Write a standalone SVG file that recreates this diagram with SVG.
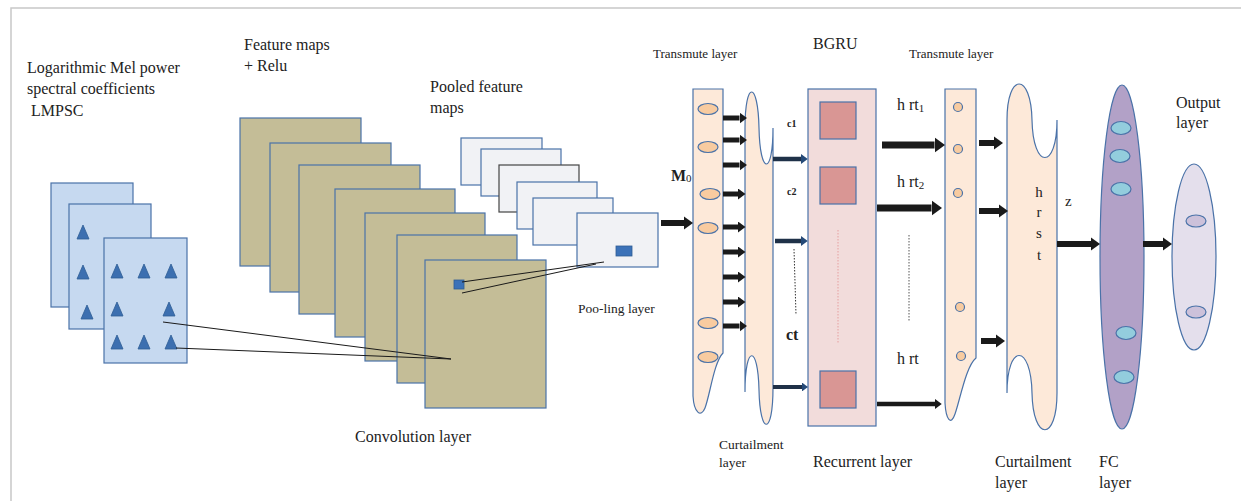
<svg xmlns="http://www.w3.org/2000/svg" xmlns:xlink="http://www.w3.org/1999/xlink" width="1241" height="501" viewBox="0 0 1241 501" font-family="'Liberation Serif', 'DejaVu Serif', serif">
<style>
  text { font-family: 'Liberation Serif', 'DejaVu Serif', serif; fill: #222; }
  .t16 { font-size: 16px; }
  .t15 { font-size: 15px; }
  .t13 { font-size: 13.5px; }
  .sheet { fill: #c6d9f0; stroke: #4a72a8; stroke-width: 1.2; }
  .fm { fill: #c4bd97; stroke: #4a72a8; stroke-width: 1.2; }
  .pool { fill: #f1f2f5; stroke: #4a72a8; stroke-width: 1.2; }
  .peach { fill: #fde9d9; stroke: #4a72a8; stroke-width: 1.2; }
  .node { fill: #f8cba0; stroke: #4a72a8; stroke-width: 1.2; }
  .tri { fill: #3c6fb0; stroke: #2f5d94; stroke-width: 0.8; }
  .thin { stroke: #1a1a1a; stroke-width: 1; fill: none; }
  .arr { stroke: #1a1a1a; fill: none; marker-end: url(#ah); }
  .arrn { stroke: #1f3148; fill: none; marker-end: url(#ahn); }
</style>
<defs>
  <marker id="ah" viewBox="0 0 10 10" refX="0" refY="5" markerWidth="1.5" markerHeight="2.2" markerUnits="strokeWidth" preserveAspectRatio="none" orient="auto">
    <path d="M0,0 L10,5 L0,10 Z" fill="#1a1a1a"/>
  </marker>
  <marker id="ahn" viewBox="0 0 10 10" refX="0" refY="5" markerWidth="1.5" markerHeight="2.2" markerUnits="strokeWidth" preserveAspectRatio="none" orient="auto">
    <path d="M0,0 L10,5 L0,10 Z" fill="#254a78"/>
  </marker>
  <path id="tri" class="tri" d="M0,-14 L6,0 L-6,0 Z"/>
</defs>

<!-- frame -->
<path d="M11,501 V8 H1241" fill="none" stroke="#c8c8c8" stroke-width="1.5"/>

<!-- input sheets -->
<g id="input-lmpsc">
  <rect class="sheet" x="51" y="183" width="82" height="124"/>
  <rect class="sheet" x="69" y="204" width="82" height="125"/>
  <use xlink:href="#tri" x="83" y="239"/>
  <use xlink:href="#tri" x="83" y="279"/>
  <use xlink:href="#tri" x="87" y="319"/>
  <rect class="sheet" x="104" y="238" width="83" height="125"/>
  <use xlink:href="#tri" x="117" y="278"/>
  <use xlink:href="#tri" x="144" y="278"/>
  <use xlink:href="#tri" x="171" y="278"/>
  <use xlink:href="#tri" x="117" y="316"/>
  <use xlink:href="#tri" x="169" y="316"/>
  <use xlink:href="#tri" x="117" y="349"/>
  <use xlink:href="#tri" x="144" y="349"/>
  <use xlink:href="#tri" x="171" y="349"/>
  <text class="t16" x="27" y="73">Logarithmic Mel power</text>
  <text class="t16" x="27" y="94">spectral coefficients</text>
  <text class="t16" x="27" y="116" xml:space="preserve"> LMPSC</text>
</g>

<!-- feature maps -->
<g id="feature-maps">
  <rect class="fm" x="240" y="118" width="121" height="148"/>
  <rect class="fm" x="270" y="143" width="121" height="149"/>
  <rect class="fm" x="299" y="165" width="121" height="149"/>
  <rect class="fm" x="335" y="189" width="120" height="148"/>
  <rect class="fm" x="365" y="213" width="120" height="148"/>
  <rect class="fm" x="397" y="235" width="120" height="148"/>
  <rect class="fm" x="425" y="260" width="121" height="148"/>
  <rect x="454" y="280" width="10" height="9" fill="#3c72b8" stroke="#2f5d94" stroke-width="0.8"/>
  <text class="t16" x="244" y="50">Feature maps</text>
  <text class="t16" x="244" y="71">+ Relu</text>
  <text class="t16" x="355" y="442">Convolution layer</text>
</g>

<!-- pooled feature maps -->
<g id="pooled-maps">
  <rect class="pool" x="461" y="138" width="81" height="47"/>
  <rect class="pool" x="481" y="149" width="80" height="47"/>
  <rect class="pool" x="499" y="165" width="80" height="47" style="stroke:#444"/>
  <rect class="pool" x="517" y="182" width="80" height="47"/>
  <rect class="pool" x="533" y="198" width="80" height="47"/>
  <rect class="pool" x="577" y="213" width="81" height="54"/>
  <rect x="616" y="246" width="16" height="10" fill="#3c72b8" stroke="#2f5d94" stroke-width="0.8"/>
  <text class="t16" x="430" y="92">Pooled feature</text>
  <text class="t16" x="430" y="113">maps</text>
  <text class="t13" x="578" y="313">Poo-ling layer</text>
</g>

<!-- transmute layer 1 -->
<g id="transmute-layer-1">
  <path class="peach" d="M693,89 H723 V353 C714,362 710,395 705,408 C701,418 694,413 693,396 Z"/>
  <ellipse class="node" cx="708" cy="109" rx="10" ry="5.5"/>
  <ellipse class="node" cx="708" cy="147" rx="10" ry="5.5"/>
  <ellipse class="node" cx="710" cy="194" rx="10" ry="5.5"/>
  <ellipse class="node" cx="708" cy="228" rx="10" ry="5.5"/>
  <ellipse class="node" cx="708" cy="323" rx="10" ry="5.5"/>
  <ellipse class="node" cx="708" cy="357" rx="10" ry="5.5"/>
  <text x="653" y="58" style="font-size:13px">Transmute layer</text>
  <text x="671" y="181" style="font-size:16px;font-weight:bold">M<tspan style="font-size:11px;font-weight:normal" dy="1">0</tspan></text>
</g>

<!-- curtailment layer 1 -->
<g id="curtailment-layer-1">
  <path class="peach" d="M745,128 C745,80 758,80 759,128 C760,176 773,176 773,128 V388 C773,436 760,436 759,390 C758,344 745,344 745,392 Z"/>
  <text class="t13" x="719" y="449">Curtailment</text>
  <text class="t13" x="719" y="467">layer</text>
</g>

<!-- BGRU -->
<g id="bgru">
  <rect x="808" y="89" width="68" height="337" fill="#f2dcdb" stroke="#4a72a8" stroke-width="1.2"/>
  <rect x="820" y="102" width="36" height="37" fill="#d99694" stroke="#4a72a8" stroke-width="1.2"/>
  <rect x="820" y="167" width="36" height="37" fill="#d99694" stroke="#4a72a8" stroke-width="1.2"/>
  <rect x="820" y="371" width="36" height="37" fill="#d99694" stroke="#4a72a8" stroke-width="1.2"/>
  <line x1="838" y1="230" x2="838" y2="343" stroke="#e6a0a0" stroke-width="1" stroke-dasharray="1.5,1.5"/>
  <text class="t16" x="813" y="49">BGRU</text>
  <text class="t16" x="813" y="467">Recurrent layer</text>
</g>

<!-- transmute layer 2 -->
<g id="transmute-layer-2">
  <path class="peach" d="M945,89 H976 V358 C966,366 960,400 955,414 C951,426 946,420 945,403 Z"/>
  <circle class="node" cx="958" cy="107" r="4.5"/>
  <circle class="node" cx="958" cy="149" r="4.5"/>
  <circle class="node" cx="958" cy="193" r="4.5"/>
  <circle class="node" cx="960" cy="307" r="4.5"/>
  <circle class="node" cx="961" cy="356" r="4.5"/>
  <text x="909" y="58" style="font-size:13px">Transmute layer</text>
</g>

<!-- curtailment layer 2 -->
<g id="curtailment-layer-2">
  <path class="peach" d="M1007,120 C1007,72 1031,72 1032,120 C1033,170 1057,170 1057,120 V393 C1057,442 1033,442 1032,393 C1031,343 1007,343 1007,393 Z"/>
  <text class="t15" x="1039" y="197" text-anchor="middle">h</text>
  <text class="t15" x="1039" y="217" text-anchor="middle">r</text>
  <text class="t15" x="1039" y="238" text-anchor="middle">s</text>
  <text class="t15" x="1039" y="260" text-anchor="middle">t</text>
  <text class="t16" x="995" y="467">Curtailment</text>
  <text class="t16" x="995" y="488">layer</text>
</g>

<!-- FC layer -->
<g id="fc-layer">
  <ellipse cx="1122" cy="257" rx="22" ry="172" fill="#b2a1c7" stroke="#4a72a8" stroke-width="1.2"/>
  <ellipse cx="1121" cy="128" rx="10" ry="6.5" fill="#93cddd" stroke="#4a72a8" stroke-width="1.2"/>
  <ellipse cx="1120" cy="156" rx="10" ry="6.5" fill="#93cddd" stroke="#4a72a8" stroke-width="1.2"/>
  <ellipse cx="1121" cy="189" rx="10" ry="6.5" fill="#93cddd" stroke="#4a72a8" stroke-width="1.2"/>
  <ellipse cx="1126" cy="333" rx="10" ry="6.5" fill="#93cddd" stroke="#4a72a8" stroke-width="1.2"/>
  <ellipse cx="1124" cy="377" rx="10" ry="6.5" fill="#93cddd" stroke="#4a72a8" stroke-width="1.2"/>
  <text class="t16" x="1099" y="467">FC</text>
  <text class="t16" x="1099" y="488">layer</text>
</g>

<!-- output layer -->
<g id="output-layer">
  <ellipse cx="1194" cy="257" rx="22" ry="93" fill="#e4dfec" stroke="#4a72a8" stroke-width="1.2"/>
  <ellipse cx="1196" cy="221" rx="10" ry="6" fill="#ccc1da" stroke="#4a72a8" stroke-width="1.2"/>
  <ellipse cx="1196" cy="312" rx="10" ry="6" fill="#ccc1da" stroke="#4a72a8" stroke-width="1.2"/>
  <text class="t16" x="1176" y="108">Output</text>
  <text class="t16" x="1176" y="128">layer</text>
</g>

<!-- connectors -->
<g id="connectors">
  <line class="thin" x1="163" y1="322" x2="451" y2="359"/>
  <line class="thin" x1="176" y1="348" x2="451" y2="359"/>
  <line class="thin" x1="462" y1="282" x2="604" y2="262"/>
  <line class="thin" x1="462" y1="293" x2="596" y2="264"/>

  <path class="arr" stroke-width="6" d="M661,223 H684"/>

  <path class="arr" stroke-width="5" d="M723,118 H739.5"/>
  <path class="arr" stroke-width="5" d="M723,140 H739.5"/>
  <path class="arr" stroke-width="5" d="M723,165 H739.5"/>
  <path class="arr" stroke-width="5" d="M723,194 H738"/>
  <path class="arr" stroke-width="5" d="M723,227 H738"/>
  <path class="arr" stroke-width="5" d="M723,252 H738"/>
  <path class="arr" stroke-width="5" d="M723,277 H738"/>
  <path class="arr" stroke-width="5" d="M723,302 H738"/>
  <path class="arr" stroke-width="5" d="M723,326 H739.5"/>

  <path class="arrn" stroke-width="4.5" d="M773,159 H801"/>
  <path class="arrn" stroke-width="4.5" d="M775,241 H801"/>
  <path class="arrn" stroke-width="4" d="M773,387 H802"/>
  <line x1="794" y1="249" x2="796" y2="315" stroke="#333" stroke-width="1" stroke-dasharray="1.5,1.5"/>
  <text x="787" y="127" style="font-size:10px;font-weight:bold">c1</text>
  <text x="787" y="195" style="font-size:10px;font-weight:bold">c2</text>
  <text x="786" y="340" style="font-size:16px;font-weight:bold">ct</text>

  <path class="arr" stroke-width="7" d="M882,145 H934.5"/>
  <path class="arr" stroke-width="7" d="M877,208 H931.5"/>
  <path class="arr" stroke-width="4.5" d="M877,404 H935"/>
  <line x1="909" y1="235" x2="909" y2="322" stroke="#555" stroke-width="1" stroke-dasharray="1.5,1.5"/>
  <text class="t16" x="897" y="110">h rt<tspan style="font-size:11px" dy="2">1</tspan></text>
  <text class="t16" x="897" y="187">h rt<tspan style="font-size:11px" dy="2">2</tspan></text>
  <text class="t16" x="897" y="364">h rt</text>

  <path class="arr" stroke-width="6" d="M979,143 H994"/>
  <path class="arr" stroke-width="6" d="M979,211 H999"/>
  <path class="arr" stroke-width="6" d="M981,341 H996"/>

  <path class="arr" stroke-width="6" d="M1057,244 H1091"/>
  <text class="t15" x="1065" y="206">z</text>
  <path class="arr" stroke-width="6" d="M1143,244 H1163"/>
</g>
</svg>
